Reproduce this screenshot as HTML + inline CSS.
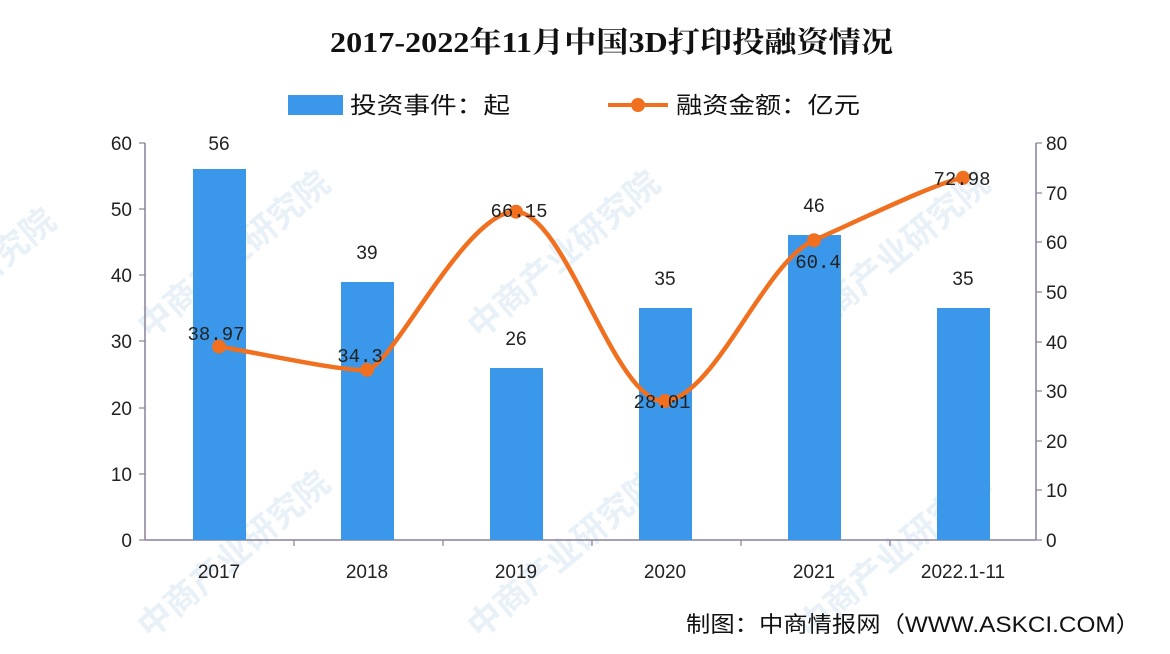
<!DOCTYPE html>
<html><head><meta charset="utf-8"><style>
body{margin:0;background:#fff;}
svg{display:block;font-family:"Liberation Sans","Noto Sans CJK SC",sans-serif;}
</style></head><body>
<svg width="1170" height="654" viewBox="0 0 1170 654" xmlns="http://www.w3.org/2000/svg">
<rect width="1170" height="654" fill="#fff"/>
<g fill="#d8e6f2" font-size="34" font-weight="bold" opacity="0.55">
<text transform="translate(150,340) rotate(-40)">中商产业研究院</text>
<text transform="translate(480,340) rotate(-40)">中商产业研究院</text>
<text transform="translate(810,340) rotate(-40)">中商产业研究院</text>
<text transform="translate(150,640) rotate(-40)">中商产业研究院</text>
<text transform="translate(480,640) rotate(-40)">中商产业研究院</text>
<text transform="translate(810,640) rotate(-40)">中商产业研究院</text>
<text transform="translate(-20,290) rotate(-40)">研究院</text>
</g>
<text x="330" y="52" textLength="563" lengthAdjust="spacingAndGlyphs" font-size="29" font-weight="bold" font-family="Liberation Serif,Noto Serif CJK SC,serif" fill="#111">2017-2022年11月中国3D打印投融资情况</text>
<rect x="288" y="95" width="55" height="20" fill="#3a97ea"/>
<text x="350" y="113" font-size="23" textLength="160" lengthAdjust="spacingAndGlyphs" fill="#111">投资事件：起</text>
<line x1="608" y1="105" x2="668" y2="105" stroke="#f07020" stroke-width="4"/>
<circle cx="638" cy="105" r="7" fill="#f07020"/>
<text x="676" y="113" font-size="23" textLength="184" lengthAdjust="spacingAndGlyphs" fill="#111">融资金额：亿元</text>
<g stroke="#8a8098" stroke-width="1.5">
<line x1="145" y1="143" x2="145" y2="540"/>
<line x1="1036" y1="143" x2="1036" y2="540"/>
<line x1="145" y1="540" x2="1036" y2="540"/>
</g>
<g stroke="#8a8098" stroke-width="1.2">
<line x1="139" y1="143" x2="145" y2="143"/><line x1="139" y1="209" x2="145" y2="209"/><line x1="139" y1="275" x2="145" y2="275"/><line x1="139" y1="341" x2="145" y2="341"/><line x1="139" y1="408" x2="145" y2="408"/><line x1="139" y1="474" x2="145" y2="474"/><line x1="139" y1="540" x2="145" y2="540"/>
<line x1="1036" y1="143" x2="1042" y2="143"/><line x1="1036" y1="193" x2="1042" y2="193"/><line x1="1036" y1="242" x2="1042" y2="242"/><line x1="1036" y1="292" x2="1042" y2="292"/><line x1="1036" y1="342" x2="1042" y2="342"/><line x1="1036" y1="391" x2="1042" y2="391"/><line x1="1036" y1="441" x2="1042" y2="441"/><line x1="1036" y1="490" x2="1042" y2="490"/><line x1="1036" y1="540" x2="1042" y2="540"/>
<line x1="294" y1="540" x2="294" y2="546"/><line x1="443" y1="540" x2="443" y2="546"/><line x1="592" y1="540" x2="592" y2="546"/><line x1="741" y1="540" x2="741" y2="546"/><line x1="890" y1="540" x2="890" y2="546"/>
</g>
<g font-size="19" fill="#222" text-anchor="end">
<text x="132" y="150">60</text><text x="132" y="216">50</text><text x="132" y="282">40</text><text x="132" y="348">30</text><text x="132" y="415">20</text><text x="132" y="481">10</text><text x="132" y="547">0</text>
</g>
<g font-size="19" fill="#222">
<text x="1046" y="150">80</text><text x="1046" y="200">70</text><text x="1046" y="249">60</text><text x="1046" y="299">50</text><text x="1046" y="349">40</text><text x="1046" y="398">30</text><text x="1046" y="448">20</text><text x="1046" y="497">10</text><text x="1046" y="547">0</text>
</g>
<g fill="#3a97ea">
<rect x="193" y="169" width="53" height="371"/>
<rect x="341" y="282" width="53" height="258"/>
<rect x="490" y="368" width="53" height="172"/>
<rect x="639" y="308" width="53" height="232"/>
<rect x="788" y="235" width="53" height="305"/>
<rect x="937" y="308" width="53" height="232"/>
</g>
<g font-size="19" fill="#222" text-anchor="middle">
<text x="219" y="150">56</text><text x="367" y="259">39</text><text x="516" y="345">26</text><text x="665" y="285">35</text><text x="814" y="212">46</text><text x="963" y="285">35</text>
<text x="219" y="578">2017</text><text x="367" y="578">2018</text><text x="516" y="578">2019</text><text x="665" y="578">2020</text><text x="814" y="578">2021</text><text x="963" y="578">2022.1-11</text>
</g>
<path d="M219,346.6 C244,350 342,372 367,369.8 C392,367 466,210 516,211.7 C566,213 615,405 665,401 C715,397 764,262 814,240.3 C864,218 938,182 963,177.8" fill="none" stroke="#f07020" stroke-width="4.5"/>
<g fill="#f07020">
<circle cx="219" cy="346.6" r="7"/><circle cx="367" cy="369.8" r="7"/><circle cx="516" cy="211.7" r="7"/><circle cx="665" cy="401" r="7"/><circle cx="814" cy="240.3" r="7"/><circle cx="963" cy="177.8" r="7"/>
</g>
<g font-size="19" fill="#222" text-anchor="middle" font-family="Liberation Mono,monospace">
<text x="216" y="340">38.97</text><text x="360" y="362">34.3</text><text x="519" y="217">66.15</text><text x="662" y="408">28.01</text><text x="818" y="268">60.4</text><text x="962" y="185">72.98</text>
</g>
<text x="686" y="632" font-size="22" textLength="454" lengthAdjust="spacingAndGlyphs" fill="#111">制图：中商情报网（WWW.ASKCI.COM）</text>
</svg>
</body></html>
